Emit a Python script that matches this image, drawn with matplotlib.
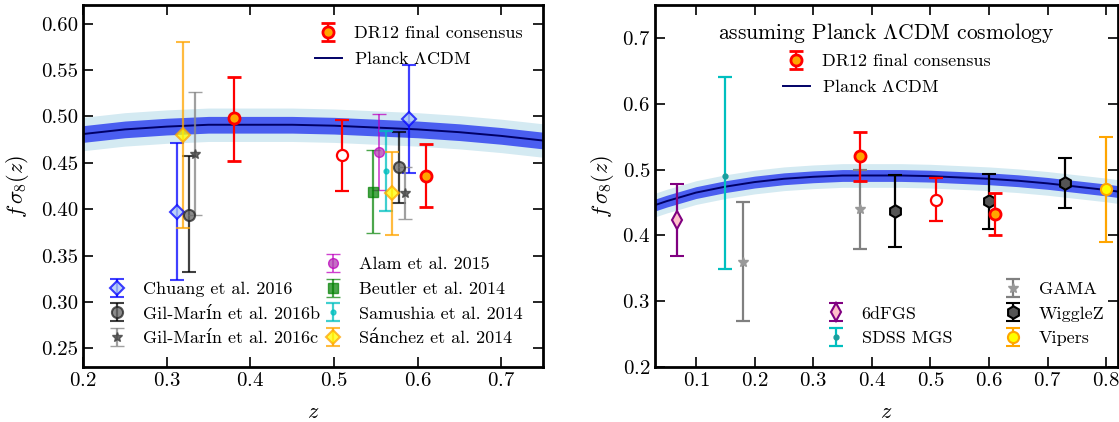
import numpy as np
import matplotlib
matplotlib.use("Agg")
import matplotlib.pyplot as plt

plt.rcParams['font.family'] = ['cmr10', 'DejaVu Serif']
plt.rcParams['mathtext.fontset'] = 'cm'
plt.rcParams['axes.formatter.use_mathtext'] = True
plt.rcParams['xtick.direction'] = 'in'
plt.rcParams['ytick.direction'] = 'in'
plt.rcParams['xtick.top'] = True
plt.rcParams['ytick.right'] = True

# Planck LCDM prediction
z_th = [0.0, 0.05, 0.1, 0.15, 0.2, 0.25, 0.3, 0.35, 0.4, 0.45, 0.5, 0.55, 0.6, 0.65, 0.7, 0.75, 0.8, 0.85]
fs8_th = [0.437, 0.452, 0.465, 0.474, 0.481, 0.486, 0.489, 0.491, 0.491, 0.491, 0.490, 0.488, 0.486, 0.483, 0.479, 0.474, 0.469, 0.463]
sig1 = 0.009
sig2 = 0.018

# DR12 consensus
dr12_z = [0.38, 0.51, 0.61]
dr12_fs8_left = [0.498, 0.458, 0.436]
dr12_lo_left = [0.046, 0.038, 0.034]
dr12_hi_left = [0.044, 0.038, 0.034]
dr12_fs8_right = [0.521, 0.454, 0.432]
dr12_lo_right = [0.038, 0.032, 0.031]
dr12_hi_right = [0.036, 0.033, 0.032]

# left panel literature (BOSS)
chuang_z = [0.312, 0.59]
chuang_fs8 = [0.397, 0.497]
chuang_err = [[0.073, 0.058], [0.074, 0.058]]
gmb_z = [0.327, 0.578]
gmb_fs8 = [0.394, 0.445]
gmb_err = [[0.062, 0.038], [0.063, 0.038]]
gmc_z = [0.334, 0.585]
gmc_fs8 = [0.460, 0.418]
gmc_err = [[0.066, 0.028], [0.066, 0.027]]
alam_z = [0.554]
alam_fs8 = [0.462]
alam_err = [[0.041], [0.041]]
beutler_z = [0.547]
beutler_fs8 = [0.419]
beutler_err = [[0.045], [0.045]]
samushia_z = [0.562]
samushia_fs8 = [0.441]
samushia_err = [[0.043], [0.043]]
sanchez_z = [0.32, 0.570]
sanchez_fs8 = [0.480, 0.417]
sanchez_err = [[0.100, 0.045], [0.100, 0.045]]

# right panel, other surveys
sixdf_z = [0.067]
sixdf_fs8 = [0.423]
sixdf_err = [[0.055], [0.055]]
mgs_z = [0.15]
mgs_fs8 = [0.490]
mgs_err = [[0.141], [0.150]]
gama_z = [0.18, 0.38]
gama_fs8 = [0.360, 0.440]
gama_err = [[0.090, 0.060], [0.090, 0.060]]
wigglez_z = [0.44, 0.60, 0.73]
wigglez_fs8 = [0.437, 0.452, 0.479]
wigglez_err = [[0.055, 0.042, 0.038], [0.055, 0.042, 0.038]]
vipers_z = [0.80]
vipers_fs8 = [0.470]
vipers_err = [[0.080], [0.080]]

fig = plt.figure(figsize=(11.19, 4.22), dpi=100)
ax1 = fig.add_axes([0.0742, 0.1303, 0.4111, 0.8578])
ax2 = fig.add_axes([0.5853, 0.1303, 0.4137, 0.8578])

ebkw = dict(linestyle='none', elinewidth=1.6, capsize=5, capthick=1.6)


def theory(ax):
    zt = np.array(z_th)
    ft = np.array(fs8_th)
    ax.fill_between(zt, ft - sig2, ft + sig2, color='#d4eaf2', lw=0, zorder=1)
    ax.fill_between(zt, ft - sig1, ft + sig1, color='#4a5ef0', lw=0, zorder=1)
    line, = ax.plot(zt, ft, color='#000066', lw=1.4, zorder=2, label=r'Planck $\Lambda$CDM')
    return line


def dr12(ax, fs8, lo, hi):
    h = ax.errorbar(dr12_z[0::2], fs8[0::2], yerr=[lo[0::2], hi[0::2]], fmt='o', color='red',
                    mfc='orange', mec='red', ms=8, mew=2, zorder=6, label='DR12 final consensus', **ebkw)
    ax.errorbar(dr12_z[1:2], fs8[1:2], yerr=[lo[1:2], hi[1:2]], fmt='o', color='red',
                mfc='white', mec='red', ms=8, mew=1.6, zorder=6, **ebkw)
    return h


# ---- left panel
line1 = theory(ax1)
h_dr = dr12(ax1, dr12_fs8_left, dr12_lo_left, dr12_hi_left)
h_ch = ax1.errorbar(chuang_z, chuang_fs8, yerr=chuang_err, fmt='D', color='blue', mfc='#a9c6f5', mec='blue',
                    ms=7, mew=1.5, alpha=0.75, zorder=4, label='Chuang et al. 2016', **ebkw)
h_gb = ax1.errorbar(gmb_z, gmb_fs8, yerr=gmb_err, fmt='o', color='black', mfc='#666666', mec='#222222',
                    ms=8, mew=1.5, alpha=0.75, zorder=4, label='Gil-Marín et al. 2016b', **ebkw)
h_gc = ax1.errorbar(gmc_z, gmc_fs8, yerr=gmc_err, fmt='*', color='#888888', mfc='#444444', mec='#444444',
                    ms=7.5, mew=1, alpha=0.8, zorder=4, label='Gil-Marín et al. 2016c', **ebkw)
h_al = ax1.errorbar(alam_z, alam_fs8, yerr=alam_err, fmt='o', color='m', mfc='#b040b0', mec='m',
                    ms=7, mew=1, alpha=0.75, zorder=4, label='Alam et al. 2015', linestyle='none',
                    elinewidth=1.2, capsize=5, capthick=1.2)
h_be = ax1.errorbar(beutler_z, beutler_fs8, yerr=beutler_err, fmt='s', color='green', mfc='green', mec='green',
                    ms=7, mew=1, alpha=0.7, zorder=4, label='Beutler et al. 2014', **ebkw)
h_sa = ax1.errorbar(samushia_z, samushia_fs8, yerr=samushia_err, fmt='.', color='c', mfc='c', mec='c',
                    ms=7, alpha=0.75, zorder=4, label='Samushia et al. 2014', **ebkw)
h_sn = ax1.errorbar(sanchez_z, sanchez_fs8, yerr=sanchez_err, fmt='D', color='orange', mfc='yellow', mec='orange',
                    ms=7, mew=1.5, alpha=0.75, zorder=4, label='Sánchez et al. 2014', **ebkw)

ax1.set_xlim(0.2, 0.75)
ax1.set_ylim(0.23, 0.62)
ax1.set_xticks([0.2, 0.3, 0.4, 0.5, 0.6, 0.7])
ax1.set_yticks([0.25, 0.30, 0.35, 0.40, 0.45, 0.50, 0.55, 0.60])
ax1.set_yticklabels(['0.25', '0.30', '0.35', '0.40', '0.45', '0.50', '0.55', '0.60'])
ax1.set_xlabel(r'$z$', fontsize=16, labelpad=9)
ax1.set_ylabel(r'$f\,\sigma_8(z)$', fontsize=16, labelpad=7)

leg_kw = dict(frameon=False, fontsize=13, handlelength=1.5, handletextpad=0.65, labelspacing=0.5,
              borderaxespad=0.75, numpoints=1)
lg1 = ax1.legend([h_dr, line1], ['DR12 final consensus', r'Planck $\Lambda$CDM'], loc='upper right', **leg_kw)
ax1.add_artist(lg1)
lg2 = ax1.legend([h_ch, h_gb, h_gc], ['Chuang et al. 2016', 'Gil-Marín et al. 2016b', 'Gil-Marín et al. 2016c'],
                 loc='lower left', **leg_kw)
ax1.add_artist(lg2)
ax1.legend([h_al, h_be, h_sa, h_sn], ['Alam et al. 2015', 'Beutler et al. 2014', 'Samushia et al. 2014',
                                      'Sánchez et al. 2014'], loc='lower right', **leg_kw)

# ---- right panel
line2 = theory(ax2)
h_dr2 = dr12(ax2, dr12_fs8_right, dr12_lo_right, dr12_hi_right)
h_6d = ax2.errorbar(sixdf_z, sixdf_fs8, yerr=sixdf_err, fmt='d', color='purple', mfc='pink', mec='purple',
                    ms=9, mew=1.5, zorder=4, label='6dFGS', **ebkw)
h_mg = ax2.errorbar(mgs_z, mgs_fs8, yerr=mgs_err, fmt='.', color='c', mfc='#1a9e9e', mec='#1a9e9e',
                    ms=7, zorder=4, label='SDSS MGS', **ebkw)
h_ga = ax2.errorbar(gama_z, gama_fs8, yerr=gama_err, fmt='*', color='grey', mfc='#999999', mec='#999999',
                    ms=7.5, zorder=4, label='GAMA', **ebkw)
h_wz = ax2.errorbar(wigglez_z, wigglez_fs8, yerr=wigglez_err, fmt='h', color='black', mfc='#555555', mec='black',
                    ms=9, mew=1.5, zorder=4, label='WiggleZ', **ebkw)
h_vp = ax2.errorbar(vipers_z, vipers_fs8, yerr=vipers_err, fmt='o', color='orange', mfc='yellow', mec='orange',
                    ms=8, mew=1.5, zorder=4, label='Vipers', **ebkw)

ax2.set_xlim(0.03, 0.82)
ax2.set_ylim(0.2, 0.75)
ax2.set_xticks([0.1, 0.2, 0.3, 0.4, 0.5, 0.6, 0.7, 0.8])
ax2.set_yticks([0.2, 0.3, 0.4, 0.5, 0.6, 0.7])
ax2.set_xlabel(r'$z$', fontsize=16, labelpad=9)
ax2.set_ylabel(r'$f\,\sigma_8(z)$', fontsize=16)

lg3 = ax2.legend([h_dr2, line2], ['DR12 final consensus', r'Planck $\Lambda$CDM'], loc='upper center',
                 title=r'assuming Planck $\Lambda$CDM cosmology', title_fontsize=15.5,
                 bbox_to_anchor=(0.5, 1.014), **leg_kw)
lg3.get_title().set_fontfamily(['cmr10', 'DejaVu Serif'])
ax2.add_artist(lg3)
lg4 = ax2.legend([h_6d, h_mg], ['6dFGS', 'SDSS MGS'], loc='lower left', bbox_to_anchor=(0.318, 0.0), **leg_kw)
ax2.add_artist(lg4)
ax2.legend([h_ga, h_wz, h_vp], ['GAMA', 'WiggleZ', 'Vipers'], loc='lower left', bbox_to_anchor=(0.7, 0.0), **leg_kw)

for ax in (ax1, ax2):
    for s in ax.spines.values():
        s.set_linewidth(2)
    ax.tick_params(labelsize=15, length=7, width=1.2)

fig.savefig('out.png', dpi=100)
